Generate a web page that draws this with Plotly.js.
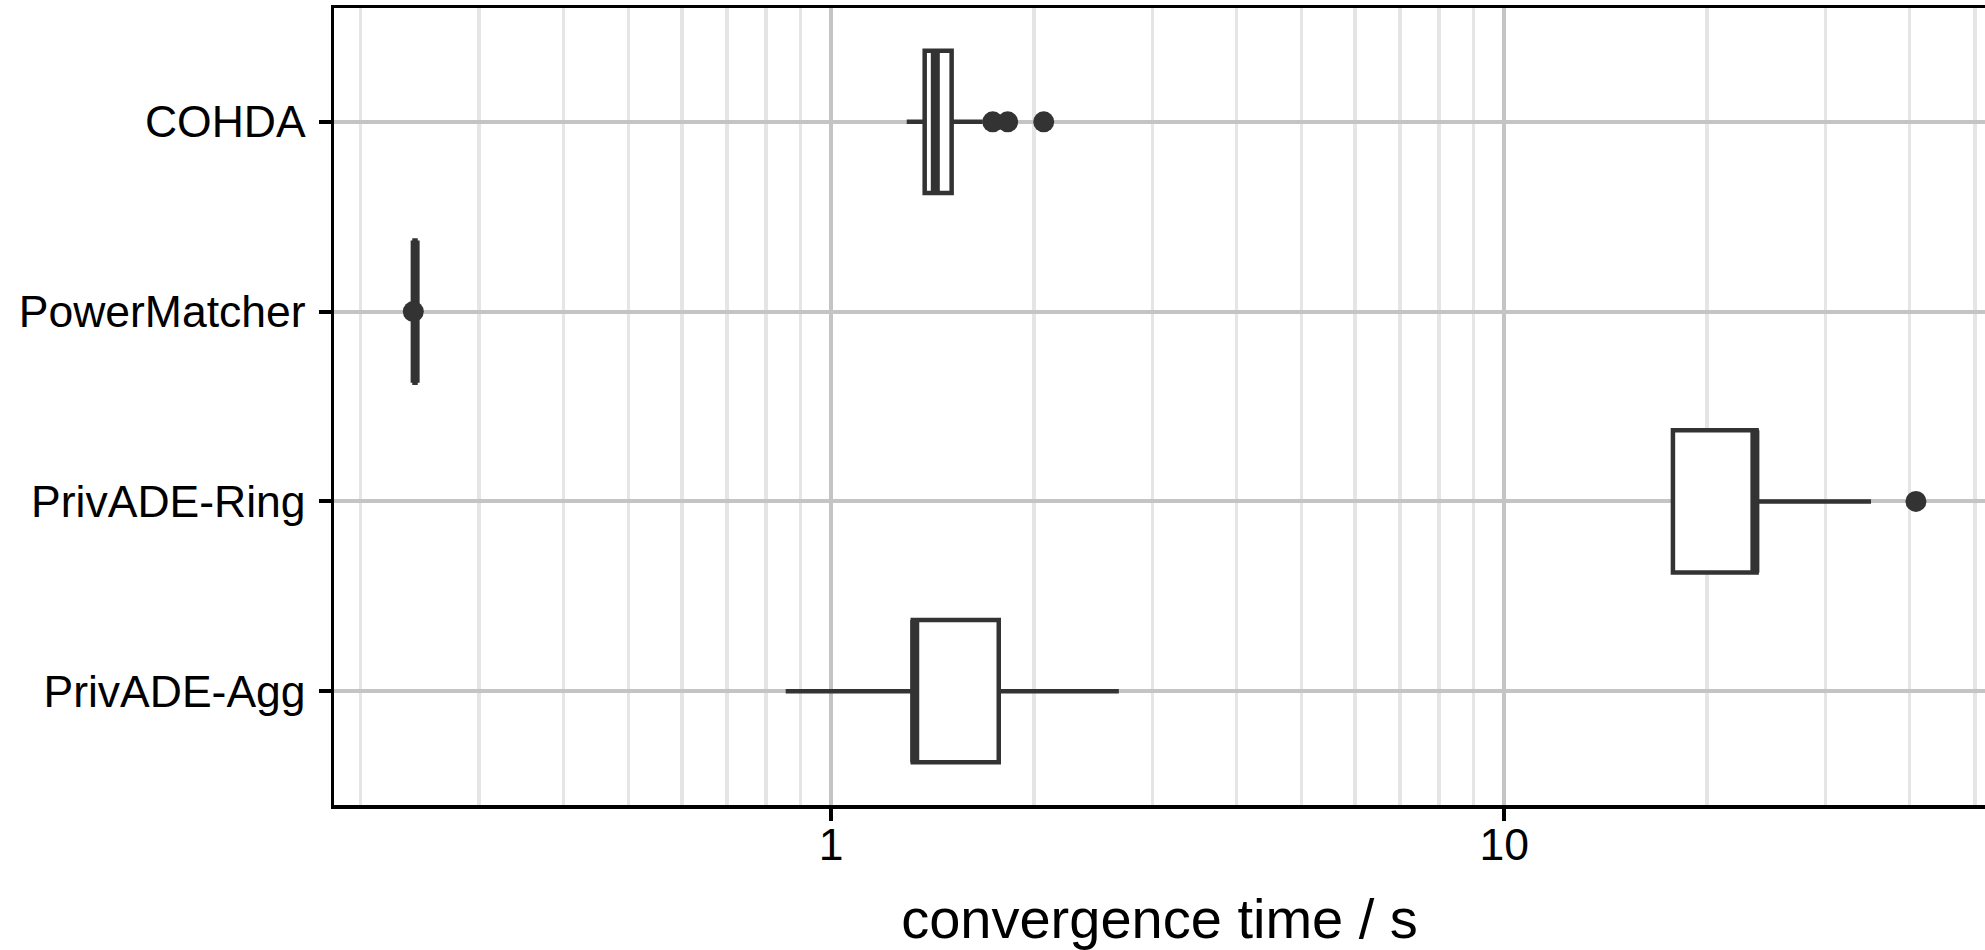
<!DOCTYPE html>
<html>
<head>
<meta charset="utf-8">
<script src="https://cdn.plot.ly/plotly-3.0.1.min.js"></script>
<style>
  html, body { margin: 0; padding: 0; background: #ffffff; overflow: hidden; }
  #chart { width: 1985px; height: 950px; }
</style>
</head>
<body>
<div id="chart"></div>
<script>
// ---- data ----
const categories = ["COHDA", "PowerMatcher", "PrivADE-Ring", "PrivADE-Agg"];
const lowerFence = [1.295, 0.2405, 17.80, 0.856];
const q1Values   = [1.377, 0.2405, 17.80, 1.322];
const medians    = [1.428, 0.2410, 23.56, 1.331];
const q3Values   = [1.510, 0.2413, 23.70, 1.774];
const upperFence = [1.679, 0.2413, 35.05, 2.675];

const outlierCategories = ["COHDA", "COHDA", "COHDA", "PowerMatcher", "PrivADE-Ring"];
const outlierValues     = [1.738, 1.829, 2.069, 0.2395, 40.87];

const majorTicks = [1, 10];
const majorTickLabels = ["1", "10"];
const minorTicks = [0.2, 0.3, 0.4, 0.5, 0.6, 0.7, 0.8, 0.9,
                    2, 3, 4, 5, 6, 7, 8, 9,
                    20, 30, 40, 50];

const xTitle = "convergence time / s";

// ---- styling ----
const ink = "#333333";
const font = "'Liberation Sans', Arial, Helvetica, sans-serif";

const boxTrace = {
  type: "box",
  orientation: "h",
  y: categories,
  q1: q1Values,
  median: medians,
  q3: q3Values,
  lowerfence: lowerFence,
  upperfence: upperFence,
  width: 0.75,
  whiskerwidth: 0,
  fillcolor: "#ffffff",
  line: { color: ink, width: 4.5 },
  boxpoints: false,
  hoverinfo: "skip",
  showlegend: false
};

// thicker median line (ggplot fatten = 2), drawn as a zero-width box at the median
const medianTrace = {
  type: "box",
  orientation: "h",
  y: categories,
  q1: medians,
  median: medians,
  q3: medians,
  lowerfence: medians,
  upperfence: medians,
  width: 0.75,
  whiskerwidth: 0,
  fillcolor: "rgba(0,0,0,0)",
  line: { color: ink, width: 9 },
  boxpoints: false,
  hoverinfo: "skip",
  showlegend: false
};

const outlierTrace = {
  type: "scatter",
  mode: "markers",
  x: outlierValues,
  y: outlierCategories,
  marker: { color: ink, size: 21, line: { width: 0 } },
  hoverinfo: "skip",
  showlegend: false
};

const layout = {
  width: 1985,
  height: 950,
  margin: { l: 334, r: 0, t: 8, b: 145, pad: 0 },
  paper_bgcolor: "#ffffff",
  plot_bgcolor: "#ffffff",
  font: { family: font, color: "#000000" },
  boxmode: "overlay",
  showlegend: false,
  xaxis: {
    type: "log",
    range: [Math.log10(0.1826), Math.log10(51.76)],
    tickmode: "array",
    tickvals: majorTicks,
    ticktext: majorTickLabels,
    ticks: "outside",
    ticklen: 12,
    tickwidth: 4,
    tickcolor: "#000000",
    tickfont: { family: font, size: 44.5, color: "#000000" },
    ticklabelstandoff: -14,
    showline: true,
    linecolor: "#000000",
    linewidth: 3.5,
    mirror: true,
    showgrid: true,
    gridcolor: "#c4c4c4",
    gridwidth: 4,
    zeroline: false,
    minor: {
      tickmode: "array",
      tickvals: minorTicks,
      ticks: "",
      showgrid: true,
      gridcolor: "#e5e5e5",
      gridwidth: 3.5
    },
    title: {
      text: xTitle,
      font: { family: font, size: 56, color: "#000000" },
      standoff: 34
    },
    automargin: false,
    fixedrange: true
  },
  yaxis: {
    type: "category",
    categoryorder: "array",
    categoryarray: categories,
    range: [3.6, -0.6],
    ticks: "outside",
    ticklen: 12,
    tickwidth: 4,
    tickcolor: "#000000",
    tickfont: { family: font, size: 44.5, color: "#000000" },
    ticklabelstandoff: 4,
    showline: true,
    linecolor: "#000000",
    linewidth: 3.5,
    showgrid: true,
    gridcolor: "#c4c4c4",
    gridwidth: 4,
    zeroline: false,
    automargin: false,
    fixedrange: true
  }
};

Plotly.newPlot("chart", [boxTrace, medianTrace, outlierTrace], layout, {
  staticPlot: true,
  displayModeBar: false
});
</script>
</body>
</html>
